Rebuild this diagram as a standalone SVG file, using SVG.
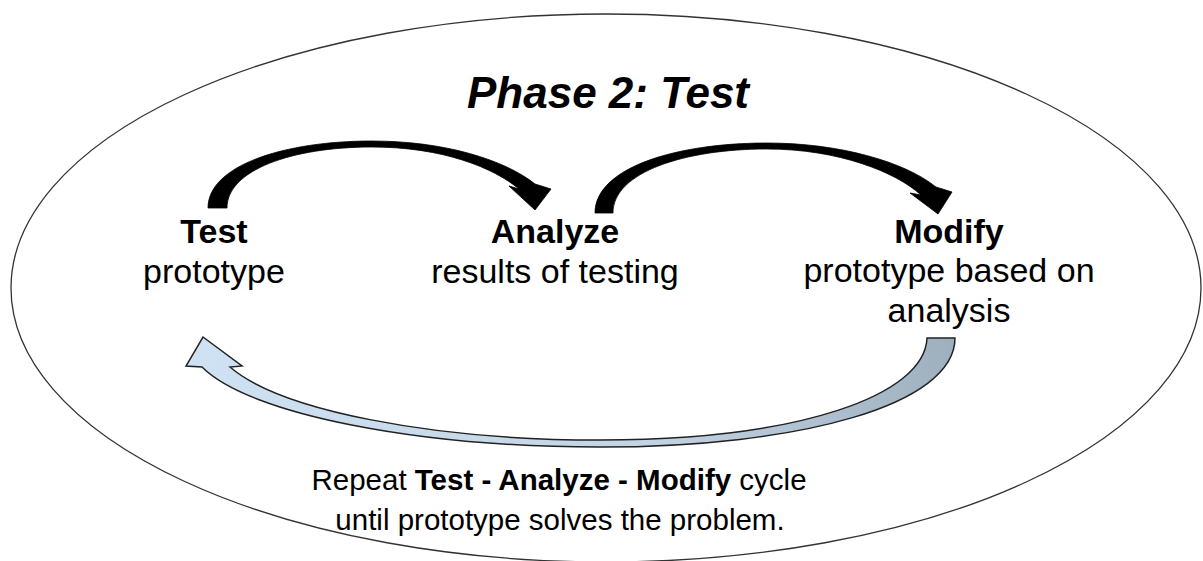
<svg xmlns="http://www.w3.org/2000/svg" width="1203" height="561" viewBox="0 0 1203 561">
<style>
  text { font-family: "Liberation Sans", Arial, sans-serif; fill: #000; text-anchor: middle; }
  .title { font-size: 44px; font-weight: bold; font-style: italic; }
  .node { font-size: 34px; }
  .b { font-weight: bold; }
  .foot { font-size: 29.5px; }
  .black-arrow { fill: #000; stroke: #000; stroke-width: 0.8; stroke-linejoin: round; }
  .return-arrow { fill: url(#retGrad); stroke: #222; stroke-width: 1.5; stroke-linejoin: miter; }
</style>
<defs>
  <linearGradient id="retGrad" gradientUnits="userSpaceOnUse" x1="187" y1="0" x2="955" y2="0">
    <stop offset="0" stop-color="#cfe2f3"/>
    <stop offset="0.6" stop-color="#c3d5e5"/>
    <stop offset="1" stop-color="#9eafbe"/>
  </linearGradient>
</defs>
<rect width="1203" height="561" fill="#fff"/>
<g id="phase-boundary">
  <ellipse cx="606" cy="288" rx="595" ry="274" fill="none" stroke="#333" stroke-width="1.3"/>
  <text class="title" x="608" y="108">Phase 2: Test</text>
</g>
<g id="connectors">
  <path id="arrow-test-analyze" class="black-arrow" d="M208,208 C208,165 285,141 372,141 C445,141 505,160 535,184 L551,189 L535,210 L509,186 L519,189 C494,168 443,147 372,147 C292,147 227,170 227,208 Z"/>
  <path id="arrow-analyze-modify" class="black-arrow" d="M595,213 C595,168 675,143 767,143 C840,143 905,162 936,187 L952,192 L938,214 L910,193 L921,195 C896,172 838,149 767,149 C685,149 613,172 613,213 Z"/>
  <path id="arrow-modify-test" class="return-arrow" d="M955,338 C955,405 800,447 600,447 C420,447 250,415 202,367 L186,366 L203,337 L242,366 L230,367 C280,410 430,440 600,440 C800,440 925,395 927,338 Z"/>
</g>
<g id="node-test">
  <text class="node b" x="214" y="243">Test</text>
  <text class="node" x="214" y="283">prototype</text>
</g>
<g id="node-analyze">
  <text class="node b" x="555" y="243">Analyze</text>
  <text class="node" x="555" y="283">results of testing</text>
</g>
<g id="node-modify">
  <text class="node b" x="949" y="243">Modify</text>
  <text class="node" x="949" y="282">prototype based on</text>
  <text class="node" x="949" y="322">analysis</text>
</g>
<g id="cycle-note">
  <text class="foot" x="559" y="490">Repeat <tspan class="b">Test - Analyze - Modify</tspan> cycle</text>
  <text class="foot" x="560" y="530">until prototype solves the problem.</text>
</g>
</svg>
